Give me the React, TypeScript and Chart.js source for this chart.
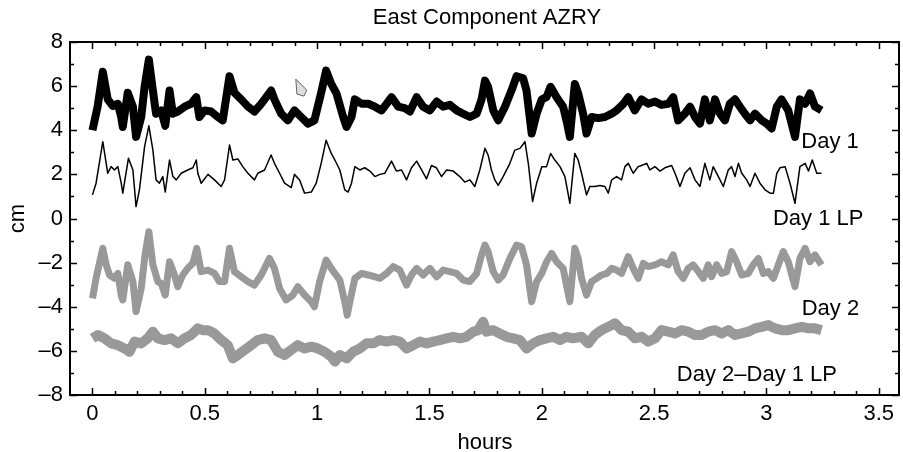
import React, { useEffect, useRef } from "react";
import { Chart, registerables } from "chart.js";

Chart.register(...registerables);

// ---------- text ----------
const TITLE = "East Component AZRY";
const X_LABEL = "hours";
const Y_LABEL = "cm";
const SERIES_LABELS = ["Day 1", "Day 1 LP", "Day 2", "Day 2\u2013Day 1 LP"];

// ---------- axes ----------
const X_MIN = -0.1;
const X_MAX = 3.59;
const Y_MIN = -8;
const Y_MAX = 8;
const X_TICKS = [0, 0.5, 1, 1.5, 2, 2.5, 3, 3.5];
const Y_TICKS = [-8, -6, -4, -2, 0, 2, 4, 6, 8];

// ---------- Day 1 ----------
const day1Hours = [
  0, 0.023, 0.046, 0.068, 0.09, 0.113, 0.128, 0.135, 0.157, 0.18,
  0.194, 0.217, 0.232, 0.251, 0.269, 0.283, 0.306, 0.324, 0.343, 0.358,
  0.38, 0.41, 0.439, 0.462, 0.476, 0.499, 0.528, 0.558, 0.58, 0.61,
  0.632, 0.662, 0.692, 0.721, 0.751, 0.795, 0.81, 0.84, 0.87, 0.899,
  0.929, 0.959, 0.988, 1.018, 1.04, 1.063, 1.086, 1.116, 1.131, 1.153,
  1.168, 1.198, 1.227, 1.257, 1.287, 1.309, 1.331, 1.361, 1.39, 1.413,
  1.443, 1.472, 1.502, 1.532, 1.561, 1.591, 1.621, 1.65, 1.68, 1.71,
  1.732, 1.747, 1.761, 1.784, 1.806, 1.836, 1.865, 1.888, 1.917, 1.932,
  1.955, 1.977, 2.0, 2.021, 2.039, 2.066, 2.095, 2.113, 2.125, 2.147,
  2.162, 2.184, 2.199, 2.222, 2.251, 2.281, 2.311, 2.333, 2.363, 2.385,
  2.414, 2.444, 2.474, 2.504, 2.533, 2.563, 2.585, 2.607, 2.637, 2.66,
  2.682, 2.704, 2.726, 2.748, 2.771, 2.793, 2.815, 2.837, 2.86, 2.882,
  2.904, 2.927, 2.949, 2.979, 3.001, 3.023, 3.046, 3.067, 3.097, 3.127,
  3.149, 3.172, 3.194, 3.216, 3.245,
];
const day1Cm = [
  4.0, 5.07, 6.65, 5.4, 5.1, 5.2, 4.6, 4.15, 5.7, 5.07,
  3.7, 4.6, 5.97, 7.2, 5.8, 4.75, 4.9, 4.2, 5.8, 4.75,
  4.85, 5.07, 5.2, 5.5, 4.6, 4.9, 4.85, 4.6, 4.45, 6.45,
  5.7, 5.4, 5.07, 4.85, 5.2, 5.8, 5.4, 4.75, 4.45, 4.9,
  4.6, 4.3, 4.45, 5.7, 6.7, 6.1, 5.67, 4.6, 4.15, 4.6,
  5.4, 5.2, 5.2, 5.07, 4.9, 5.2, 5.5, 5.07, 5.0, 4.85,
  5.5, 5.07, 4.9, 5.3, 5.07, 5.15, 4.9, 4.75, 4.6, 4.75,
  5.4, 6.25, 5.97, 4.9, 4.45, 5.07, 5.8, 6.45, 6.35, 5.8,
  3.85, 4.75, 5.4, 5.5, 5.97, 5.5, 5.07, 4.3, 3.7, 6.1,
  5.67, 4.75, 3.85, 4.6, 4.55, 4.6, 4.75, 4.9, 5.2, 5.5,
  4.9, 5.4, 5.2, 5.3, 5.15, 5.2, 5.5, 4.45, 4.75, 5.07,
  4.6, 4.3, 5.4, 4.45, 5.4, 4.75, 4.45, 5.2, 5.4, 5.07,
  4.75, 4.45, 4.75, 4.45, 4.3, 4.08, 5.07, 5.4, 4.9, 3.7,
  5.4, 5.2, 5.67, 5.07, 4.9,
];

// ---------- Day 1 LP ----------
const day1LpHours = [
  0, 0.016, 0.046, 0.068, 0.083, 0.098, 0.113, 0.128, 0.135, 0.16,
  0.18, 0.194, 0.209, 0.232, 0.251, 0.269, 0.283, 0.298, 0.313, 0.324,
  0.343, 0.358, 0.373, 0.395, 0.424, 0.447, 0.462, 0.469, 0.484, 0.514,
  0.543, 0.573, 0.588, 0.61, 0.625, 0.647, 0.669, 0.692, 0.721, 0.736,
  0.766, 0.795, 0.81, 0.833, 0.855, 0.885, 0.899, 0.922, 0.944, 0.974,
  0.996, 1.018, 1.04, 1.063, 1.079, 1.101, 1.123, 1.138, 1.153, 1.168,
  1.19, 1.212, 1.235, 1.257, 1.279, 1.301, 1.331, 1.353, 1.376, 1.398,
  1.42, 1.443, 1.465, 1.487, 1.509, 1.531, 1.554, 1.576, 1.606, 1.635,
  1.657, 1.68, 1.702, 1.724, 1.747, 1.761, 1.776, 1.791, 1.806, 1.828,
  1.858, 1.88, 1.903, 1.925, 1.94, 1.959, 1.977, 2.0, 2.021, 2.039,
  2.058, 2.081, 2.103, 2.125, 2.147, 2.162, 2.177, 2.199, 2.214, 2.236,
  2.259, 2.281, 2.296, 2.311, 2.333, 2.355, 2.37, 2.385, 2.407, 2.429,
  2.444, 2.467, 2.481, 2.504, 2.526, 2.548, 2.578, 2.593, 2.615, 2.637,
  2.66, 2.682, 2.704, 2.726, 2.748, 2.763, 2.786, 2.808, 2.83, 2.845,
  2.86, 2.875, 2.89, 2.912, 2.927, 2.949, 2.971, 2.994, 3.016, 3.031,
  3.046, 3.06, 3.083, 3.105, 3.127, 3.149, 3.172, 3.187, 3.204, 3.224,
  3.245,
];
const day1LpCm = [
  1.07, 1.6, 3.48, 2.05, 2.35, 2.2, 2.35, 1.6, 1.15, 2.73,
  2.2, 0.54, 1.3, 3.26, 4.2, 3.1, 1.75, 1.6, 1.9, 1.2,
  2.65, 1.9, 1.75, 2.05, 2.2, 2.3, 2.65, 2.05, 1.6, 2.0,
  1.75, 1.45, 1.75, 3.33, 2.65, 2.7, 2.35, 2.05, 1.75, 2.05,
  2.2, 2.88, 2.5, 2.05, 1.6, 1.4, 2.0, 1.75, 1.15, 1.2,
  1.6, 2.5, 3.55, 2.95, 2.65, 2.2, 1.3, 1.2, 1.6, 2.35,
  2.2, 2.3, 2.15, 1.9, 2.0, 2.05, 2.6, 2.15, 2.2, 1.75,
  2.3, 2.6, 2.2, 1.8, 2.4, 2.3, 1.9, 2.2, 2.15, 1.9,
  1.65, 1.75, 1.45, 2.2, 3.18, 2.88, 2.2, 1.75, 1.5, 1.9,
  2.5, 3.1, 3.18, 3.48, 2.5, 0.77, 1.6, 2.35, 2.35, 2.95,
  2.65, 2.35, 1.9, 0.69, 2.95, 2.65, 2.05, 1.07, 1.45, 1.45,
  1.5, 1.45, 1.15, 1.75, 1.9, 1.75, 2.35, 2.5, 2.05, 2.35,
  2.4, 2.5, 2.2, 2.35, 2.15, 2.3, 2.4, 2.05, 1.45, 2.05,
  2.3, 1.75, 1.45, 2.5, 1.75, 2.35, 1.9, 1.45, 2.2, 2.35,
  1.9, 2.5, 2.05, 1.75, 1.45, 2.05, 1.6, 1.3, 1.15, 1.15,
  2.05, 2.3, 2.35, 1.6, 0.69, 2.35, 2.5, 2.15, 2.65, 2.05,
  2.05,
];

// ---------- Day 2 ----------
const day2Hours = [
  0, 0.016, 0.046, 0.061, 0.076, 0.098, 0.113, 0.128, 0.135, 0.157,
  0.18, 0.194, 0.217, 0.234, 0.251, 0.269, 0.291, 0.306, 0.324, 0.343,
  0.365, 0.38, 0.402, 0.424, 0.447, 0.464, 0.484, 0.514, 0.543, 0.565,
  0.588, 0.61, 0.632, 0.662, 0.692, 0.721, 0.751, 0.788, 0.81, 0.833,
  0.862, 0.892, 0.914, 0.944, 0.974, 0.988, 1.011, 1.04, 1.063, 1.079,
  1.101, 1.123, 1.134, 1.149, 1.168, 1.198, 1.227, 1.257, 1.279, 1.309,
  1.339, 1.368, 1.398, 1.42, 1.443, 1.472, 1.502, 1.532, 1.561, 1.591,
  1.621, 1.65, 1.68, 1.71, 1.732, 1.747, 1.761, 1.784, 1.806, 1.828,
  1.858, 1.888, 1.91, 1.932, 1.955, 1.977, 2.0, 2.021, 2.044, 2.066,
  2.095, 2.113, 2.125, 2.147, 2.162, 2.177, 2.199, 2.222, 2.244, 2.266,
  2.289, 2.311, 2.333, 2.355, 2.385, 2.407, 2.429, 2.452, 2.474, 2.504,
  2.533, 2.563, 2.585, 2.607, 2.63, 2.652, 2.674, 2.697, 2.719, 2.741,
  2.756, 2.778, 2.801, 2.823, 2.845, 2.867, 2.89, 2.919, 2.941, 2.964,
  2.986, 3.008, 3.031, 3.053, 3.075, 3.097, 3.127, 3.149, 3.172, 3.194,
  3.216, 3.245,
];
const day2Cm = [
  -3.62, -2.71, -1.35, -2.1, -2.56, -2.71, -2.49, -3.47, -3.69, -2.1,
  -2.86, -4.22, -3.17, -1.65, -0.6, -2.1, -2.86, -2.94, -3.47, -1.96,
  -2.56, -3.09, -2.56, -2.26, -2.03, -1.35, -2.41, -2.34, -2.49, -2.86,
  -2.86, -1.35, -2.41, -2.64, -2.86, -3.02, -2.56, -1.81, -2.26, -3.17,
  -3.69, -3.47, -3.09, -3.47, -3.77, -4.0, -2.86, -1.88, -2.26, -2.49,
  -2.79, -3.77, -4.38, -3.62, -2.71, -2.49, -2.56, -2.64, -2.71, -2.49,
  -2.18, -2.34, -3.02, -2.56, -2.26, -2.56, -2.26, -2.64, -2.34, -2.41,
  -2.49, -2.79, -2.86, -2.49, -1.65, -1.2, -1.5, -2.41, -2.79, -2.56,
  -1.81, -1.2, -1.28, -2.1, -3.77, -2.86, -2.49, -1.96, -1.58, -1.96,
  -2.26, -3.17, -3.77, -1.35, -1.81, -2.71, -3.47, -2.86, -2.71, -2.56,
  -2.49, -2.26, -2.34, -2.49, -1.73, -2.26, -2.71, -2.03, -2.18, -2.1,
  -1.96, -2.1, -1.65, -2.41, -2.71, -2.26, -2.1, -2.41, -2.71, -2.1,
  -2.64, -2.1, -2.49, -2.41, -1.5, -1.96, -2.56, -2.49, -2.1, -1.81,
  -2.49, -2.41, -2.71, -2.1, -1.5, -1.96, -3.09, -1.81, -1.35, -1.96,
  -1.65, -2.1,
];

// ---------- Day 2 – Day 1 LP ----------
const diffHours = [
  0, 0.024, 0.053, 0.083, 0.113, 0.143, 0.165, 0.187, 0.217, 0.246,
  0.269, 0.291, 0.321, 0.35, 0.38, 0.41, 0.439, 0.469, 0.491, 0.514,
  0.543, 0.573, 0.602, 0.625, 0.647, 0.677, 0.706, 0.736, 0.766, 0.795,
  0.825, 0.855, 0.884, 0.914, 0.944, 0.974, 1.003, 1.033, 1.063, 1.079,
  1.101, 1.131, 1.16, 1.19, 1.22, 1.25, 1.279, 1.309, 1.339, 1.368,
  1.398, 1.428, 1.457, 1.487, 1.517, 1.546, 1.576, 1.606, 1.635, 1.665,
  1.695, 1.717, 1.739, 1.754, 1.784, 1.813, 1.843, 1.873, 1.903, 1.932,
  1.962, 1.992, 2.021, 2.051, 2.081, 2.11, 2.14, 2.177, 2.207, 2.236,
  2.266, 2.296, 2.326, 2.355, 2.385, 2.414, 2.444, 2.474, 2.504, 2.533,
  2.563, 2.593, 2.622, 2.652, 2.682, 2.711, 2.741, 2.771, 2.8, 2.83,
  2.86, 2.89, 2.919, 2.949, 2.979, 3.008, 3.038, 3.068, 3.097, 3.127,
  3.157, 3.187, 3.216, 3.245,
];
const diffCm = [
  -5.43, -5.28, -5.43, -5.66, -5.74, -5.89, -6.04, -5.58, -5.66, -5.43,
  -5.13, -5.43, -5.51, -5.43, -5.66, -5.43, -5.28, -4.98, -5.06, -5.06,
  -5.21, -5.51, -5.74, -6.34, -6.19, -5.96, -5.74, -5.51, -5.43, -5.51,
  -6.04, -6.19, -5.96, -5.74, -5.89, -5.81, -5.89, -6.04, -6.26, -6.49,
  -6.19, -6.34, -6.04, -5.89, -5.66, -5.66, -5.51, -5.58, -5.51, -5.58,
  -5.89, -5.74, -5.58, -5.66, -5.58, -5.51, -5.43, -5.36, -5.43, -5.36,
  -5.13, -5.06, -4.68, -5.13, -5.06, -5.21, -5.36, -5.43, -5.51, -5.89,
  -5.66, -5.51, -5.43, -5.36, -5.51, -5.36, -5.43, -5.36, -5.66, -5.28,
  -5.06, -4.91, -4.75, -5.06, -5.13, -5.43, -5.36, -5.58, -5.43, -5.06,
  -5.13, -5.21, -5.06, -5.13, -5.28, -5.28, -5.13, -5.06, -5.21, -5.06,
  -5.28, -5.21, -5.13, -4.98, -4.91, -4.83, -4.98, -5.06, -5.06, -4.98,
  -4.91, -4.98, -4.98, -5.06,
];

// ---------- annotation anchors (hours, cm) ----------
const LABEL_HOURS = [3.155, 3.029, 3.157, 2.601];
const LABEL_CM = [3.18, -0.3, -4.38, -7.37];
// cursor-like grey marker visible in the original (hours, cm)
const MARKER_HOURS = [0.905, 0.954, 0.941, 0.91];
const MARKER_CM = [6.32, 5.82, 5.55, 5.64];

const FONT_FAMILY = "'Liberation Sans', Arial, Helvetica, sans-serif";
const FONT_SIZE = 22;
const GREY = "#999999";

const pts = (xs: number[], ys: number[]) => xs.map((x, i) => ({ x, y: ys[i] }));
const fmt = (v: number) => (v < 0 ? "\u2013" + Math.abs(v) : String(v));

const decorPlugin = {
  id: "decor",
  afterDraw(chart: any) {
    const ctx = chart.ctx as CanvasRenderingContext2D;
    const { left, right, top, bottom } = chart.chartArea;
    const xs = chart.scales.x;
    const ys = chart.scales.y;
    ctx.save();
    ctx.strokeStyle = "#000";
    ctx.lineWidth = 2;
    ctx.strokeRect(left, top, right - left, bottom - top);

    ctx.lineWidth = 1.5;
    ctx.beginPath();
    for (let i = 0; i <= 35; i++) {
      const v = i / 10;
      const len = i % 5 === 0 ? 7 : 4;
      const px = Math.round(xs.getPixelForValue(v)) + 0.5;
      ctx.moveTo(px, bottom);
      ctx.lineTo(px, bottom - len);
      ctx.moveTo(px, top);
      ctx.lineTo(px, top + len);
    }
    for (let v = Y_MIN; v <= Y_MAX; v++) {
      const len = v % 2 === 0 ? 7 : 4;
      const py = Math.round(ys.getPixelForValue(v)) + 0.5;
      ctx.moveTo(left, py);
      ctx.lineTo(left + len, py);
      ctx.moveTo(right, py);
      ctx.lineTo(right - len, py);
    }
    ctx.stroke();

    // marker
    ctx.beginPath();
    MARKER_HOURS.forEach((h, i) => {
      const px = xs.getPixelForValue(h);
      const py = ys.getPixelForValue(MARKER_CM[i]);
      if (i === 0) ctx.moveTo(px, py);
      else ctx.lineTo(px, py);
    });
    ctx.closePath();
    ctx.fillStyle = "#dddddd";
    ctx.fill();
    ctx.strokeStyle = "#666";
    ctx.lineWidth = 1;
    ctx.stroke();

    ctx.fillStyle = "#000";
    ctx.font = `${FONT_SIZE}px ${FONT_FAMILY}`;
    ctx.textBaseline = "alphabetic";

    // series labels
    ctx.textAlign = "left";
    SERIES_LABELS.forEach((t, i) => {
      ctx.fillText(t, xs.getPixelForValue(LABEL_HOURS[i]), ys.getPixelForValue(LABEL_CM[i]));
    });

    // title
    ctx.textAlign = "center";
    ctx.fillText(TITLE, (left + right) / 2 + 2.5, top - 18);

    // x label
    ctx.fillText(X_LABEL, (left + right) / 2 + 0.5, bottom + 54);

    // y label
    ctx.save();
    ctx.translate(left - 46.5, (top + bottom) / 2);
    ctx.rotate(-Math.PI / 2);
    ctx.fillText(Y_LABEL, 0, 0);
    ctx.restore();

    ctx.restore();
  },
};

export default function App() {
  const ref = useRef<HTMLCanvasElement | null>(null);
  useEffect(() => {
    if (!ref.current) return;
    const tickFont = { family: FONT_FAMILY, size: FONT_SIZE };
    const chart = new Chart(ref.current, {
      type: "line",
      data: {
        datasets: [
          { label: SERIES_LABELS[3], data: pts(diffHours, diffCm), borderColor: GREY, borderWidth: 10 },
          { label: SERIES_LABELS[2], data: pts(day2Hours, day2Cm), borderColor: GREY, borderWidth: 7 },
          { label: SERIES_LABELS[0], data: pts(day1Hours, day1Cm), borderColor: "#000", borderWidth: 8 },
          { label: SERIES_LABELS[1], data: pts(day1LpHours, day1LpCm), borderColor: "#000", borderWidth: 1.5 },
        ].map((d) => ({
          ...d,
          pointRadius: 0,
          tension: 0,
          fill: false,
          borderJoinStyle: "round" as const,
          borderCapStyle: "butt" as const,
        })),
      },
      options: {
        responsive: false,
        animation: false,
        devicePixelRatio: 1,
        layout: { padding: { top: 42, right: 4, left: 0, bottom: 0 } },
        plugins: {
          legend: { display: false },
          tooltip: { enabled: false },
          title: { display: false },
        },
        scales: {
          x: {
            type: "linear",
            min: X_MIN,
            max: X_MAX,
            grid: { display: false, drawTicks: false },
            border: { display: false },
            afterBuildTicks: (s: any) => {
              s.ticks = X_TICKS.map((value) => ({ value }));
            },
            afterFit: (s: any) => {
              s.height = 57;
            },
            ticks: {
              autoSkip: false,
              maxRotation: 0,
              padding: 6,
              color: "#000",
              font: tickFont,
              callback: (v: any) => fmt(Number(v)),
            },
          },
          y: {
            type: "linear",
            min: Y_MIN,
            max: Y_MAX,
            grid: { display: false, drawTicks: false },
            border: { display: false },
            afterBuildTicks: (s: any) => {
              s.ticks = Y_TICKS.map((value) => ({ value }));
            },
            afterFit: (s: any) => {
              s.width = 70;
            },
            ticks: {
              autoSkip: false,
              padding: 7,
              color: "#000",
              font: tickFont,
              callback: (v: any) => fmt(Number(v)),
            },
          },
        },
      },
      plugins: [decorPlugin],
    });
    return () => chart.destroy();
  }, []);

  return (
    <div style={{ position: "absolute", left: 0, top: 0, width: 903, height: 452, background: "#fff" }}>
      <canvas ref={ref} width={903} height={452} style={{ width: 903, height: 452, display: "block" }} />
    </div>
  );
}
